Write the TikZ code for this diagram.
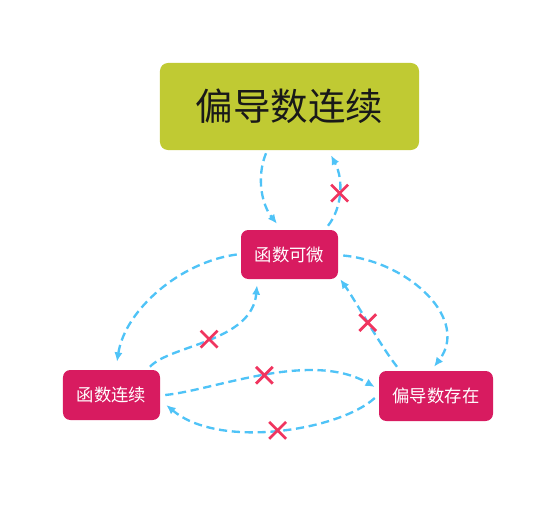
\documentclass[tikz,border=0pt]{standalone}
\usepackage{fontspec}
\newfontfamily\cjk{Noto Sans CJK SC}
\usepackage{tikz}
\usetikzlibrary{calc,shapes.misc,arrows.meta}
\definecolor{olivebox}{HTML}{C0CA33}
\definecolor{pinkbox}{HTML}{D81B60}
\definecolor{skyline}{HTML}{4FC3F7}
\definecolor{crossred}{HTML}{F0355F}

\begin{document}
\begin{tikzpicture}[x=0.03cm, y=-0.03cm, font=\cjk,
    bigbox/.style={fill=olivebox, rounded corners=0.24cm, minimum width=7.77cm, minimum height=2.61cm, text=black!90, font=\cjk\fontsize{32}{34}\selectfont},
    smallbox/.style={fill=pinkbox, rounded corners=0.22cm, minimum height=1.5cm, text=white, font=\cjk\fontsize{14.8}{16}\selectfont},
    link/.style={draw=skyline, line width=2pt, dash pattern=on 7pt off 4pt, -{Latex[length=8pt,width=7pt]}},
    nope/.style={cross out, draw=crossred, line width=2.4pt, minimum size=0.42cm, inner sep=0pt, solid}]
            \useasboundingbox (0,0) rectangle (556,506);
            % Nodes
            \node[bigbox] (pdc) at (289.5,106.5) {偏导数连续};
            \node[smallbox, minimum width=2.91cm, minimum height=1.47cm] (diff) at (289.5,254.5) {函数可微};
            \node[smallbox, minimum width=2.91cm] (cont) at (111.5,395) {函数连续};
            \node[smallbox, minimum width=3.42cm] (pex) at (436,396) {偏导数存在};

            % Lines
            \draw[link] ($(pdc.south)+(-23.5,3)$) .. controls (256,178) and (262,205) .. ($(diff.north)+(-12.5,-6)$);
            \draw[link] ($(diff.north)+(38.5,-4)$) .. controls (342,208) and (344,180) .. ($(pdc.south)+(41.5,5)$)
                node[nope, pos=0.5] (x1) {};
            \draw[link] ($(diff.west)+(-4,0)$) .. controls (180,262) and (125,310) .. ($(cont.north)+(5.5,-8)$);
            \draw[link] ($(cont.north)+(38.5,-3)$) .. controls (170,345) and (252,342) .. ($(diff.south)+(-32.5,6)$)
                node[nope, pos=0.5] (x2) {};
            \draw[link] ($(diff.east)+(5,1)$) .. controls (410,262) and (470,320) .. ($(pex.north)+(-2,-4)$);
            \draw[link] ($(pex.north)+(-39,-4)$) .. controls (380,345) and (355,300) .. ($(diff.south east)+(2,0)$)
                node[nope, pos=0.5] (x3) {};
            \draw[link] ($(cont.east)+(5,0)$) .. controls (215,390) and (310,350) .. ($(pex.west)+(-4,-9)$)
                node[nope, pos=0.5] (x4) {};
            \draw[link] ($(pex.west)+(-4,2)$) .. controls (340,430) and (220,450) .. ($(cont.east)+(6,10)$)
                node[nope, pos=0.5] (x5) {};
        \end{tikzpicture}
\end{document}
